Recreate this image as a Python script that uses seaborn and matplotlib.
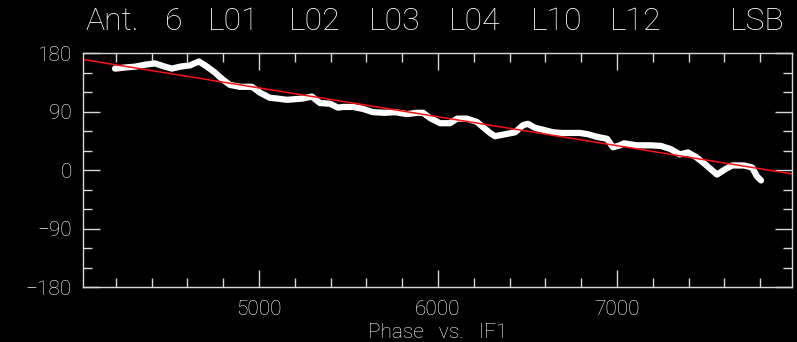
import matplotlib
matplotlib.use('Agg')
import matplotlib.pyplot as plt
from matplotlib.ticker import MultipleLocator, FixedLocator
import pandas as pd
import seaborn as sns

# IF1 channel vs phase (deg)
channel = [4196, 4263, 4308, 4363, 4419, 4475, 4514, 4559, 4615, 4665, 4710,
           4754, 4799, 4838, 4894, 4961, 5006, 5062, 5101, 5157, 5246, 5296,
           5341, 5397, 5442, 5470, 5526, 5581, 5637, 5704, 5760, 5827, 5883,
           5917, 5956, 6012, 6067, 6107, 6162, 6218, 6252, 6291, 6319, 6375,
           6431, 6475, 6503, 6542, 6587, 6643, 6693, 6738, 6794, 6838, 6889,
           6945, 6978, 7017, 7040, 7112, 7190, 7246, 7302, 7352, 7397, 7442,
           7492, 7559, 7604, 7643, 7710, 7755, 7783, 7805]
phase = [156, 158, 159, 162, 164, 159, 156, 159, 161, 167, 159,
         150, 139, 131, 128, 128, 119, 111, 110, 108, 110, 113,
         103, 102, 96, 97, 97, 94, 89, 88, 89, 86, 88,
         88, 80, 72, 72, 79, 79, 74, 66, 57, 52, 55,
         58, 69, 71, 65, 62, 58, 57, 57, 57, 55, 51,
         48, 35, 38, 41, 38, 38, 37, 32, 24, 27, 20,
         9, -7, 1, 7, 7, 4, -10, -16]

# linear fit
fit_channel = [4017, 7978]
fit_phase = [170, -6]

title_words = ['Ant.', '6', 'L01', 'L02', 'L03', 'L04', 'L10', 'L12']
sideband = 'LSB'
x_label = 'Phase   vs.   IF1'
y_ticks = [-180, -90, 0, 90, 180]
x_ticks = [5000, 6000, 7000]

data = pd.DataFrame({'channel': channel, 'phase': phase})
fit = pd.DataFrame({'channel': fit_channel, 'phase': fit_phase})

sns.set_style('dark', {'axes.facecolor': 'black', 'figure.facecolor': 'black',
                       'axes.edgecolor': '#d8d8d8', 'text.color': 'white',
                       'xtick.color': '#d8d8d8', 'ytick.color': '#d8d8d8'})
plt.rcParams['font.family'] = ['Roboto', 'DejaVu Sans']
plt.rcParams['font.weight'] = 'light'
plt.rcParams['axes.labelweight'] = 'light'

fig = plt.figure(figsize=(7.97, 3.42), dpi=100)
ax = fig.add_axes([0.1041, 0.1608, 0.8896, 0.6842])

sns.lineplot(data=data, x='channel', y='phase', ax=ax, color='white',
             linewidth=4.5, sort=False)
sns.lineplot(data=fit, x='channel', y='phase', ax=ax, color='#ff1010',
             linewidth=1.1)

ax.set_xlim(4017, 7978)
ax.set_ylim(-180, 180)
ax.xaxis.set_major_locator(FixedLocator(x_ticks))
ax.xaxis.set_minor_locator(MultipleLocator(200))
ax.yaxis.set_major_locator(FixedLocator(y_ticks))
ax.yaxis.set_minor_locator(MultipleLocator(30))
ax.tick_params(which='both', direction='in', top=True, right=True,
               bottom=True, left=True, colors='#d8d8d8', labelcolor='white',
               labelsize=15)
ax.tick_params(which='major', length=12, width=1)
ax.tick_params(which='minor', length=6.5, width=1)
ax.tick_params(axis='y', pad=8)
ax.tick_params(axis='x', pad=9)
for s in ax.spines.values():
    s.set_visible(True)
    s.set_color('#d8d8d8')
    s.set_linewidth(1)
ax.grid(False)
ax.set_xlabel(x_label, fontsize=15, color='white', fontweight='light',
              labelpad=3)
ax.set_ylabel('')

word_x = [85, 165, 208, 289, 369, 449, 531, 610]
for w, xp in zip(title_words, word_x):
    fig.text(xp / 797, 1 - 30 / 342, w, fontsize=23, color='white',
             ha='left', va='baseline', fontweight='light')
fig.text(785 / 797, 1 - 30 / 342, sideband, fontsize=23, color='white',
         ha='right', va='baseline', fontweight='light')

fig.savefig('out.png', dpi=100, facecolor='black')
